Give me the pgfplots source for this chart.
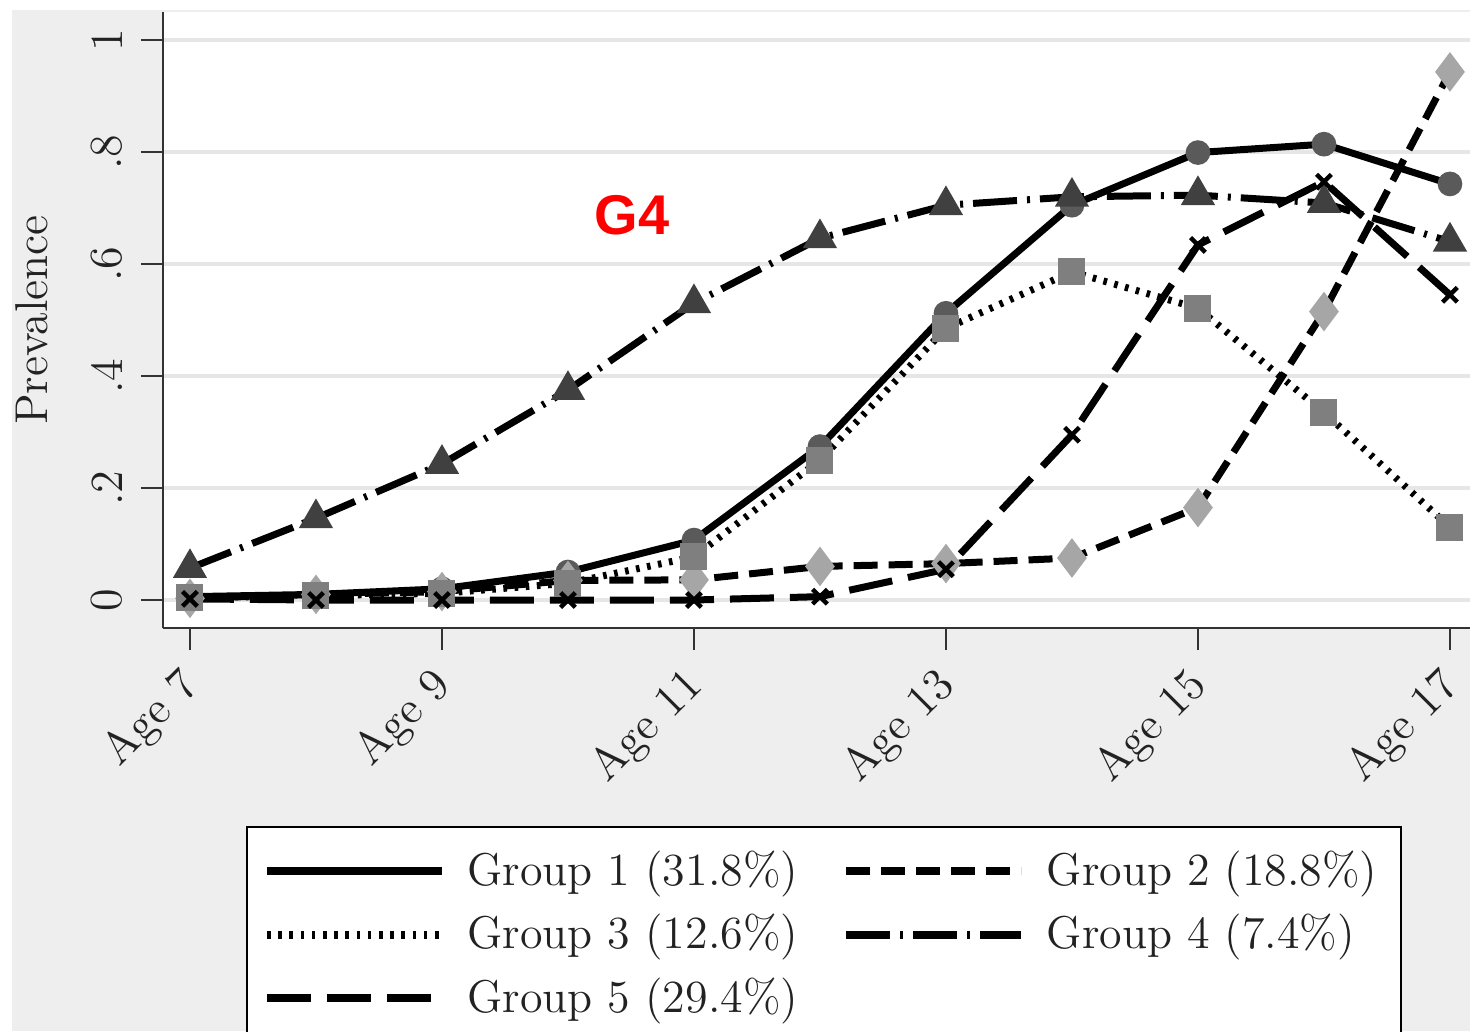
\documentclass[border=0pt]{standalone}
\usepackage{fontspec}
\usepackage{pgfplots}
\pgfplotsset{compat=1.18}
\newfontfamily\labelfont{Liberation Sans}
\definecolor{bggray}{HTML}{EEEEEE}
\definecolor{gridgray}{HTML}{E6E6E6}
\definecolor{gA}{HTML}{5A5A5A}
\definecolor{gB}{HTML}{A6A6A6}
\definecolor{gC}{HTML}{7F7F7F}
\definecolor{gD}{HTML}{404040}
\definecolor{txt}{HTML}{222222}
\newcommand{\tfont}{\fontsize{11.5}{13}\selectfont}
\begin{document}
\begin{tikzpicture}
\fill[white] (-40.75pt,-100.75pt) rectangle (326.75pt,157pt);
\fill[bggray] (-37.75pt,-100.75pt) rectangle (326.75pt,154.5pt);
\begin{axis}[
  at={(0pt,0pt)}, anchor=south west,
  scale only axis, width=326.75pt, height=154pt,
  xmin=6.786, xmax=17.159, ymin=-0.05, ymax=1.05,
  axis x line*=bottom, axis y line*=left,
  axis line style={line width=0.7pt, color=black!80, -},
  axis background/.style={fill=white},
  xtick={7,9,11,13,15,17},
  xticklabels={Age 7,Age 9,Age 11,Age 13,Age 15,Age 17},
  ytick={0,0.2,0.4,0.6,0.8,1},
  yticklabels={0,.2,.4,.6,.8,1},
  tick align=outside, major tick length=5.5pt,
  tick style={line width=0.6pt, color=black!80},
  ymajorgrids, major grid style={line width=1pt, color=gridgray},
  xticklabel style={rotate=45, anchor=east, font=\tfont, text=txt, xshift=-1.2pt, yshift=-5.5pt},
  yticklabel style={rotate=90, anchor=south, font=\tfont, text=txt, yshift=1.2pt},
  ylabel={Prevalence},
  ylabel style={font=\tfont, text=txt, at={(axis description cs:-0.1002,0.5)}, anchor=center},
  clip=false,
  legend columns=2,
  legend cell align=left,
  legend style={at={(0.0635,-0.3214)}, anchor=north west, draw=black, line width=0.5pt, fill=white,
    font=\tfont, text=txt, inner xsep=4pt, inner ysep=4pt, row sep=1.75pt,
    /tikz/every even column/.append style={column sep=9pt}},
  legend image code/.code={\draw[#1, line width=2pt] (0pt,0pt) -- (43.75pt,0pt); \path (47.25pt,0pt);},
]
\addplot[black, line width=1.75pt, mark=*, mark size=2.2pt, mark options={solid, fill=gA, draw=gA}]
coordinates {(7,0.006)(8,0.01)(9,0.02)(10,0.05)(11,0.107)(12,0.274)(13,0.512)(14,0.705)(15,0.799)(16,0.814)(17,0.743)};
\addlegendentry{Group 1 (31.8\%)}
\addplot[black, line width=1.75pt, dash pattern=on 6pt off 2.75pt, mark=diamond*, mark size=3.5pt, mark options={solid, fill=gB, draw=gB}]
coordinates {(7,0.003)(8,0.01)(9,0.015)(10,0.035)(11,0.036)(12,0.06)(13,0.065)(14,0.075)(15,0.165)(16,0.515)(17,0.943)};
\addlegendentry{Group 2 (18.8\%)}
\addplot[black, line width=1.75pt, dash pattern=on 0.9pt off 1.9pt, mark=square*, mark size=2.5pt, mark options={solid, fill=gC, draw=gC}]
coordinates {(7,0.004)(8,0.008)(9,0.012)(10,0.03)(11,0.077)(12,0.25)(13,0.485)(14,0.586)(15,0.521)(16,0.335)(17,0.13)};
\addlegendentry{Group 3 (12.6\%)}
\addplot[black, line width=1.75pt, dash pattern=on 11pt off 2.5pt on 0.75pt off 2.5pt, mark=triangle*, mark size=3.2pt, mark options={solid, fill=gD, draw=gD}]
coordinates {(7,0.057)(8,0.146)(9,0.243)(10,0.375)(11,0.53)(12,0.646)(13,0.705)(14,0.72)(15,0.723)(16,0.709)(17,0.64)};
\addlegendentry{Group 4 (7.4\%)}
\addplot[black, line width=1.75pt, dash pattern=on 11pt off 4pt, mark=x, mark size=2.6pt, mark options={solid, line width=1.1pt, draw=black}]
coordinates {(7,0.002)(8,0)(9,0)(10,0)(11,0)(12,0.006)(13,0.055)(14,0.295)(15,0.634)(16,0.747)(17,0.545)};
\addlegendentry{Group 5 (29.4\%)}
\node[text=red, font=\labelfont\bfseries\fontsize{14}{16}\selectfont] at (axis cs:10.51,0.6875) {G4};
\end{axis}
\pgfresetboundingbox
\useasboundingbox (-40.75pt,-100.75pt) rectangle (326.75pt,157pt);
\end{tikzpicture}
\end{document}
